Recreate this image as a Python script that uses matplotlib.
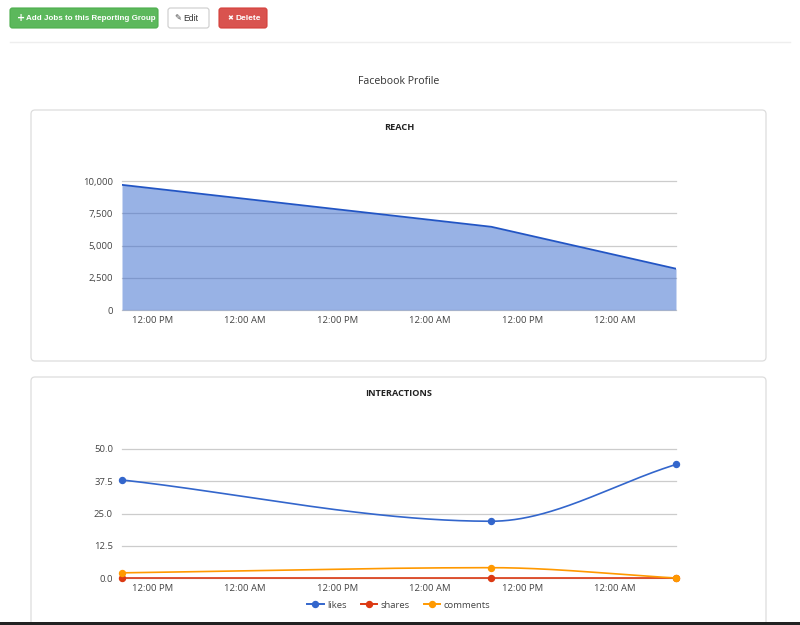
import numpy as np
import pandas as pd
import matplotlib
matplotlib.use("Agg")
import matplotlib.pyplot as plt
import matplotlib.dates as mdates
from matplotlib.patches import FancyBboxPatch, Rectangle
from matplotlib.lines import Line2D
from matplotlib.ticker import FixedLocator, FuncFormatter

plt.rcParams['font.family'] = ['Open Sans', 'DejaVu Sans']

# ---------------- data ----------------
timestamps = ["2016-05-10 08:00", "2016-05-12 08:00", "2016-05-13 08:00"]
reach = [9700, 6450, 3200]
likes = [38, 22, 44]
shares = [0, 0, 0]
comments = [2, 4, 0]
series_names = ["likes", "shares", "comments"]
series_colors = ["#3366cc", "#dc3912", "#ff9900"]
reach_ticks = [0, 2500, 5000, 7500, 10000]
inter_ticks = [0.0, 12.5, 25.0, 37.5, 50.0]

page_title = "Facebook Profile"
panel_titles = ["REACH", "INTERACTIONS"]

W, H = 800, 625
fig = plt.figure(figsize=(W / 100, H / 100), dpi=100)
fig.patch.set_facecolor("white")

# background overlay in pixel coordinates
bg = fig.add_axes([0, 0, 1, 1], zorder=0)
bg.set_xlim(0, W)
bg.set_ylim(H, 0)
bg.axis("off")

BTN_FONT = ["Liberation Sans", "DejaVu Sans"]

def button(x0, x1, y0, y1, face, edge, tx, text, tcolor, bold=True, size=5.8):
    bg.add_patch(FancyBboxPatch((x0, y0), x1 - x0, y1 - y0,
                                boxstyle="round,pad=0,rounding_size=2.5",
                                facecolor=face, edgecolor=edge, lw=0.8))
    bg.text(tx, (y0 + y1) / 2 + 0.5, text, color=tcolor, fontsize=size,
            ha="left", va="center", fontweight="bold" if bold else "normal",
            family=BTN_FONT)

def icon(x, y, s, color, size=6.0):
    bg.text(x, y, s, color=color, fontsize=size, ha="center", va="center",
            family=["DejaVu Sans"], fontweight="bold")

button(10, 158, 8, 28, "#5cb85c", "#4cae4c", 25.5, "Add Jobs to this Reporting Group", "white")
icon(21, 18, "+", "white", 7.0)
button(168, 209, 8, 28, "white", "#cccccc", 183, "Edit", "#333333", bold=False, size=6.2)
icon(178, 18.3, "\u270e", "#444444", 6.0)
button(219, 267, 8, 28, "#d9534f", "#d43f3a", 235, "Delete", "white", size=6.0)
icon(230, 18.3, "\u2716", "white", 5.0)

bg.plot([10, 790], [42, 42], color="#eeeeee", lw=1)
bg.text(399, 81, page_title, ha="center", va="center", fontsize=7.6, color="#333333")

# panels
bg.add_patch(FancyBboxPatch((31, 110), 735, 251, boxstyle="round,pad=0,rounding_size=4",
                            facecolor="white", edgecolor="#dddddd", lw=0.9))
bg.add_patch(FancyBboxPatch((31, 377), 735, 300, boxstyle="round,pad=0,rounding_size=4",
                            facecolor="white", edgecolor="#dddddd", lw=0.9))
bg.text(399, 127, panel_titles[0], ha="center", va="center", fontsize=6.6,
        fontweight="bold", color="#222222")
bg.text(399, 394, panel_titles[1], ha="center", va="center", fontsize=6.6,
        fontweight="bold", color="#222222")
bg.add_patch(Rectangle((0, 622), W, 4, facecolor="#222222", edgecolor="none"))

times = pd.to_datetime(timestamps)
xnum = mdates.date2num(times)

def px_axes(x0, x1, ytop, ybot):
    return fig.add_axes([x0 / W, 1 - ybot / H, (x1 - x0) / W, (ybot - ytop) / H], zorder=1)

def style_axes(ax, yticks, fmt):
    ax.set_facecolor("none")
    for s in ax.spines.values():
        s.set_visible(False)
    ax.set_xlim(xnum[0], xnum[-1])
    ax.set_ylim(yticks[0], yticks[-1])
    ax.yaxis.set_major_locator(FixedLocator(yticks))
    ax.yaxis.set_major_formatter(FuncFormatter(fmt))
    ax.xaxis.set_major_locator(mdates.HourLocator(byhour=[0, 12]))
    ax.xaxis.set_major_formatter(mdates.DateFormatter("%I:%M %p"))
    ax.tick_params(axis="both", length=0, labelsize=6.8, labelcolor="#444444")
    ax.tick_params(axis="y", pad=6.5)
    ax.tick_params(axis="x", pad=4)
    ax.grid(axis="y", color="#cccccc", lw=0.9, zorder=0)
    ax.set_axisbelow(True)
    for gl in ax.get_ygridlines():
        gl.set_clip_on(False)

# ---- reach ----
ax1 = px_axes(122, 676, 181, 310)
style_axes(ax1, reach_ticks, lambda v, p: f"{int(v):,}")
ax1.fill_between(times, reach, 0, color="#3366cc", alpha=0.5, lw=0, zorder=2)
ax1.plot(times, reach, color="#2255c4", lw=1.3, zorder=3)

# ---- interactions ----
def monotone(x, y, n=300):
    x = np.asarray(x, float); y = np.asarray(y, float)
    h = np.diff(x); d = np.diff(y) / h
    m = np.zeros_like(y)
    m[0], m[-1] = d[0], d[-1]
    for k in range(1, len(y) - 1):
        if d[k - 1] * d[k] <= 0:
            m[k] = 0
        else:
            m[k] = 3 * (h[k - 1] + h[k]) / ((2 * h[k] + h[k - 1]) / d[k - 1] + (h[k] + 2 * h[k - 1]) / d[k])
    xs, ys = [], []
    for k in range(len(h)):
        t = np.linspace(0, 1, n)
        h00 = 2 * t**3 - 3 * t**2 + 1; h10 = t**3 - 2 * t**2 + t
        h01 = -2 * t**3 + 3 * t**2; h11 = t**3 - t**2
        xs.append(x[k] + t * h[k])
        ys.append(h00 * y[k] + h10 * h[k] * m[k] + h01 * y[k + 1] + h11 * h[k] * m[k + 1])
    return np.concatenate(xs), np.concatenate(ys)

ax2 = px_axes(122, 676, 449, 578)
style_axes(ax2, inter_ticks, lambda v, p: f"{v:.1f}")
for vals, name, col, z in [(shares, "shares", series_colors[1], 3),
                           (comments, "comments", series_colors[2], 4),
                           (likes, "likes", series_colors[0], 5)]:
    sx, sy = monotone(xnum, vals)
    ax2.plot(sx, sy, color=col, lw=1.2, zorder=z, clip_on=False)
    ax2.plot(xnum, vals, "o", color=col, ms=4.3, zorder=z + 0.5, clip_on=False)

handles = [Line2D([], [], color=c, lw=1.4, marker="o", ms=4.3) for c in series_colors]
fig.legend(handles, series_names, loc="center", bbox_to_anchor=(399 / W, 1 - 605 / H),
           ncol=3, frameon=False, fontsize=6.8, handlelength=1.7, handletextpad=0.4,
           columnspacing=1.5, labelcolor="#444444")

fig.savefig("out.png", dpi=100, facecolor="white")
